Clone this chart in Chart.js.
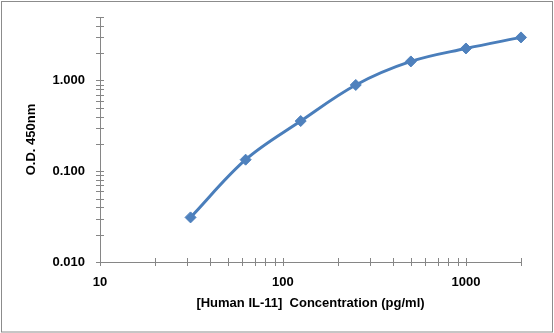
<!DOCTYPE html>
<html>
<head>
<meta charset="utf-8">
<script src="https://cdn.jsdelivr.net/npm/chart.js@4"></script>
<style>
  html, body { margin: 0; padding: 0; background: #ffffff; }
  #wrap { width: 554px; height: 333px; position: relative; }
</style>
</head>
<body>
<div id="wrap"><canvas id="c" width="554" height="333"></canvas></div>
<script>
// Standard curve: concentration (pg/ml) vs optical density at 450 nm
const concentrations = [31.25, 62.5, 125, 250, 500, 1000, 2000];
const odValues = [0.031, 0.134, 0.357, 0.892, 1.62, 2.25, 2.98];

// Decade ticks and their labels
const xDecades = [10, 100, 1000];
const xDecadeLabels = ['10', '100', '1000'];
const yDecades = [0.01, 0.1, 1];
const yDecadeLabels = ['0.010', '0.100', '1.000'];

const xRange = [10, 2000];
const yRange = [0.01, 5];

const axisGray = '#868686';
const lineBlue = '#4A7EBB';
const markerBlue = '#4F81BD';
const labelFont = { family: 'Liberation Sans', size: 13, weight: 'bold' };

// all 1..9 x 10^n ticks inside a range
function logTicks(decades, range) {
  const out = [];
  decades.forEach(d => {
    for (let m = 1; m <= 9; m++) {
      const v = +(d * m).toPrecision(6);
      if (v >= range[0] - 1e-12 && v <= range[1] + 1e-12) out.push(v);
    }
  });
  return out;
}

function labelFor(value, decades, labels) {
  for (let i = 0; i < decades.length; i++) {
    if (Math.abs(value - decades[i]) < decades[i] * 1e-6) return labels[i];
  }
  return '';
}

// tick marks that cross the axis line, plus the outer frame
const frameAndTicks = {
  id: 'frameAndTicks',
  afterDraw(chart) {
    const ctx = chart.ctx;
    const area = chart.chartArea;
    ctx.save();
    ctx.strokeStyle = axisGray;
    ctx.lineWidth = 1;
    const xs = chart.scales.x, ys = chart.scales.y;
    ctx.beginPath();
    xs.ticks.forEach(t => {
      const px = Math.round(xs.getPixelForValue(t.value)) + 0.5;
      ctx.moveTo(px, area.bottom - 4);
      ctx.lineTo(px, area.bottom + 4);
    });
    ys.ticks.forEach(t => {
      const py = Math.round(ys.getPixelForValue(t.value)) + 0.5;
      ctx.moveTo(area.left - 4, py);
      ctx.lineTo(area.left + 4, py);
    });
    ctx.stroke();
    ctx.strokeStyle = '#8c8c8c';
    ctx.strokeRect(1.5, 1.5, chart.width - 3, chart.height - 2.5);
    ctx.restore();
  }
};

new Chart(document.getElementById('c'), {
  type: 'line',
  data: {
    datasets: [{
      data: concentrations.map((x, i) => ({ x: x, y: odValues[i] })),
      borderColor: lineBlue,
      borderWidth: 3,
      backgroundColor: markerBlue,
      pointBackgroundColor: markerBlue,
      pointBorderColor: markerBlue,
      pointStyle: 'rectRot',
      pointRadius: 5.5,
      pointBorderWidth: 1,
      tension: 0.35,
      fill: false,
      clip: false
    }]
  },
  options: {
    responsive: false,
    animation: false,
    devicePixelRatio: 1,
    layout: { padding: { left: 0, top: 17, right: 33, bottom: 0 } },
    plugins: { legend: { display: false }, tooltip: { enabled: false } },
    scales: {
      x: {
        type: 'logarithmic',
        min: xRange[0],
        max: xRange[1],
        afterBuildTicks: s => { s.ticks = logTicks(xDecades, xRange).map(v => ({ value: v })); },
        afterFit: s => { s.height = 71; s.paddingLeft = 0; s.paddingRight = 0; },
        border: { display: true, color: axisGray, width: 1 },
        grid: { display: false, drawTicks: false },
        ticks: {
          autoSkip: false,
          maxRotation: 0,
          padding: 13,
          color: '#000000',
          font: labelFont,
          callback: v => labelFor(v, xDecades, xDecadeLabels)
        },
        title: {
          display: true,
          text: '[Human IL-11]  Concentration (pg/ml)',
          color: '#000000',
          font: labelFont,
          padding: { top: 4, bottom: 22 }
        }
      },
      y: {
        type: 'logarithmic',
        min: yRange[0],
        max: yRange[1],
        afterBuildTicks: s => { s.ticks = logTicks(yDecades, yRange).map(v => ({ value: v })); },
        afterFit: s => { s.width = 100; s.paddingTop = 0; s.paddingBottom = 0; },
        border: { display: true, color: axisGray, width: 1 },
        grid: { display: false, drawTicks: false },
        ticks: {
          autoSkip: false,
          padding: 15,
          color: '#000000',
          font: labelFont,
          callback: v => labelFor(v, yDecades, yDecadeLabels)
        },
        title: {
          display: true,
          text: 'O.D. 450nm',
          color: '#000000',
          font: labelFont,
          padding: { top: 24, bottom: 0 }
        }
      }
    }
  },
  plugins: [frameAndTicks]
});
</script>
</body>
</html>
